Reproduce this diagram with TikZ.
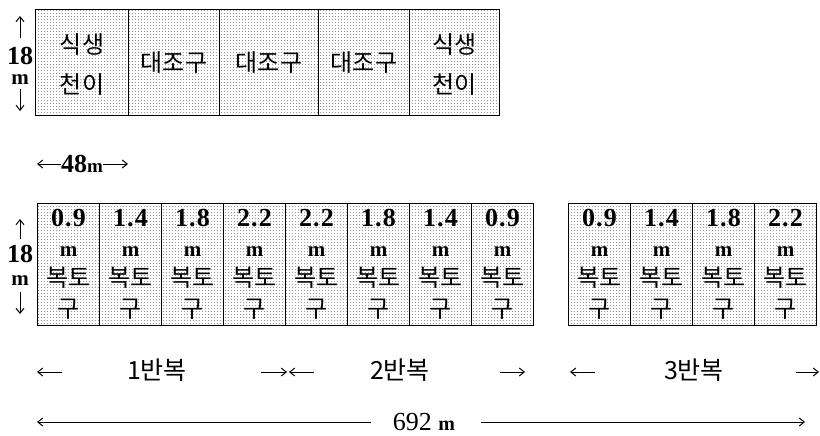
\documentclass[tikz,border=0pt]{standalone}
\usepackage{fontspec}
\setmainfont{Liberation Serif}
\newfontfamily\kr{Noto Sans CJK KR}
\newfontfamily\numf[LetterSpace=4]{Liberation Serif}
\usetikzlibrary{patterns,calc,arrows.meta}
\pgfdeclarepatternformonly{celldots}{\pgfpointorigin}{\pgfpoint{3.4pt}{3.4pt}}{\pgfpoint{3.4pt}{3.4pt}}{%
  \pgfpathcircle{\pgfpoint{1.7pt}{1.7pt}}{0.6pt}\pgfusepath{fill}}
\tikzset{
  cell/.style={draw=black, line width=1pt, pattern=celldots, pattern color=black!45,
    inner sep=0pt, anchor=north west, minimum height=#1},
  krt/.style={inner sep=0pt, font=\kr\fontsize{24}{24}\selectfont},
  numt/.style={inner sep=0pt, font=\numf\bfseries\fontsize{26}{26}\selectfont},
  mt/.style={inner sep=0pt, font=\bfseries\fontsize{21}{21}\selectfont},
  lblt/.style={inner sep=0pt, font=\kr\fontsize{25}{25}\selectfont},
  arr/.style={line width=1pt, -{Straight Barb[length=5pt,width=8pt]}},
}
\begin{document}
\begin{tikzpicture}[x=1pt,y=-1pt]
\useasboundingbox (0,0) rectangle (820,436);
% ---------- top row ----------
\node[cell=106pt, minimum width=93pt] (t1) at (35,9) {};
\node[cell=106pt, minimum width=91pt] (t2) at (128,9) {};
\node[cell=106pt, minimum width=99pt] (t3) at (219,9) {};
\node[cell=106pt, minimum width=91pt] (t4) at (318,9) {};
\node[cell=106pt, minimum width=90pt] (t5) at (409,9) {};
\node[krt] (t1a) at ($(t1.north)+(0,36)$) {식생};
\node[krt] (t1b) at ($(t1.north)+(0,76)$) {천이};
\node[krt] (t2a) at (t2.center) {대조구};
\node[krt] (t3a) at (t3.center) {대조구};
\node[krt] (t4a) at (t4.center) {대조구};
\node[krt] (t5a) at ($(t5.north)+(0,36)$) {식생};
\node[krt] (t5b) at ($(t5.north)+(0,76)$) {천이};
% left height mark (top)
\node[inner sep=0pt, font=\bfseries\fontsize{26}{26}\selectfont] (h1) at (20,56) {18};
\node[mt] (hm1) at (20,80) {m};
\coordinate (h1u0) at (20,38);
\coordinate (h1u1) at (20,16);
\coordinate (h1d0) at (20,89);
\coordinate (h1d1) at (20,111);
\draw[arr] (h1u0) -- (h1u1);
\draw[arr] (h1d0) -- (h1d1);
% 48 m
\node[inner sep=0pt, font=\bfseries\fontsize{26}{26}\selectfont] (d48) at (82,164) {48\fontsize{19}{19}\selectfont m};
\coordinate (d48l) at (37,164);
\coordinate (d48r) at (128,164);
\draw[arr] (d48.west) -- (d48l);
\draw[arr] (d48.east) -- (d48r);
% ---------- bottom rows ----------
\foreach \i/\v in {0/0.9,1/1.4,2/1.8,3/2.2,4/2.2,5/1.8,6/1.4,7/0.9}{
  \node[cell=122pt, minimum width=62pt] (b\i) at ({37+62*\i},203) {};
  \node[numt] (b\i n) at ($(b\i.north)+(0,15)$) {\v};
  \node[mt] (b\i m) at ($(b\i.north)+(0,49)$) {m};
  \node[krt] (b\i k) at ($(b\i.north)+(0,75)$) {복토};
  \node[krt] (b\i g) at ($(b\i.north)+(0,106)$) {구};
}
\foreach \i/\v in {0/0.9,1/1.4,2/1.8,3/2.2}{
  \node[cell=122pt, minimum width=62pt] (c\i) at ({568+62*\i},203) {};
  \node[numt] (c\i n) at ($(c\i.north)+(0,15)$) {\v};
  \node[mt] (c\i m) at ($(c\i.north)+(0,49)$) {m};
  \node[krt] (c\i k) at ($(c\i.north)+(0,75)$) {복토};
  \node[krt] (c\i g) at ($(c\i.north)+(0,106)$) {구};
}
% left height mark (bottom)
\node[inner sep=0pt, font=\bfseries\fontsize{26}{26}\selectfont] (h2) at (20,254) {18};
\node[mt] (hm2) at (20,281) {m};
\coordinate (h2u0) at (20,239);
\coordinate (h2u1) at (20,219);
\coordinate (h2d0) at (20,292);
\coordinate (h2d1) at (20,314);
\draw[arr] (h2u0) -- (h2u1);
\draw[arr] (h2d0) -- (h2d1);
% ---------- replicate labels ----------
\node[lblt] (r1) at (157,370) {1반복};
\node[lblt] (r2) at (400,370) {2반복};
\node[lblt] (r3) at (694,370) {3반복};
\coordinate (a1a) at (62,372); \coordinate (a1b) at (37,372);
\coordinate (a2a) at (261,372); \coordinate (a2b) at (287,372);
\coordinate (a3a) at (314,372); \coordinate (a3b) at (289,372);
\coordinate (a4a) at (500,372); \coordinate (a4b) at (525,372);
\coordinate (a5a) at (595,372); \coordinate (a5b) at (570,372);
\coordinate (a6a) at (796,372); \coordinate (a6b) at (819,372);
\draw[arr] (a1a) -- (a1b);
\draw[arr] (a2a) -- (a2b);
\draw[arr] (a3a) -- (a3b);
\draw[arr] (a4a) -- (a4b);
\draw[arr] (a5a) -- (a5b);
\draw[arr] (a6a) -- (a6b);
% ---------- total length ----------
\node[inner sep=0pt, font=\fontsize{26}{26}\selectfont] (tot) at (424,422) {692 \fontsize{20}{20}\selectfont\bfseries m};
\coordinate (totl) at (37,422);
\coordinate (totr) at (805,422);
\draw[arr] ($(tot.west)+(-22,0)$) -- (totl);
\draw[arr] ($(tot.east)+(26,0)$) -- (totr);
\end{tikzpicture}
\end{document}
